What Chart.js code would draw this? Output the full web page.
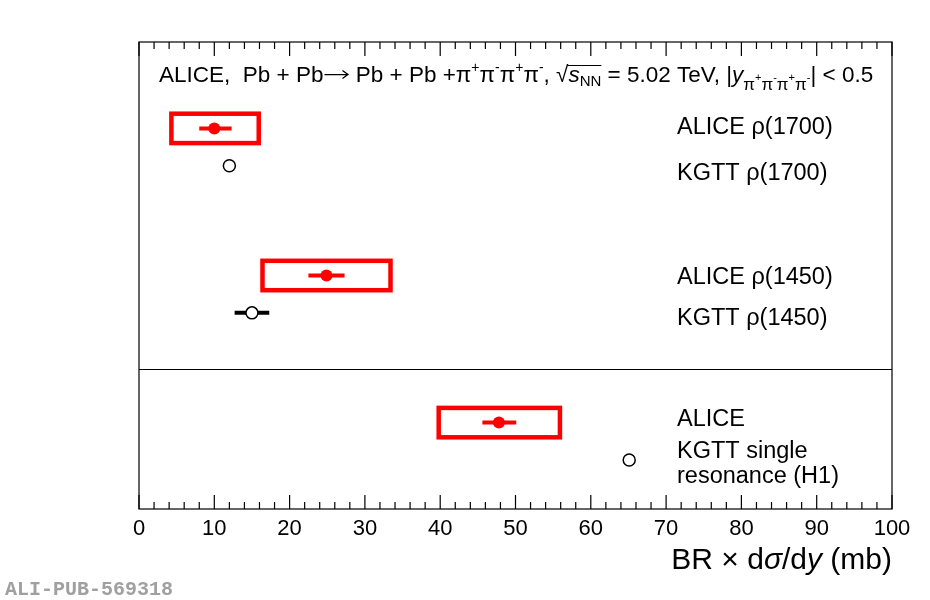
<!DOCTYPE html>
<html>
<head>
<meta charset="utf-8">
<script src="https://cdn.jsdelivr.net/npm/chart.js@4.4.0/dist/chart.umd.min.js"></script>
<style>
html, body { margin: 0; padding: 0; background: #fff; }
#wrap { width: 930px; height: 600px; }
</style>
</head>
<body>
<div id="wrap"><canvas id="alicePlot" width="930" height="600"></canvas></div>
<script>
// BR x dsigma/dy in mb
var groups = ['ρ(1700)', 'ρ(1450)', 'single resonance (H1)'];
var aliceValue = [10.0, 24.9, 47.8];
var aliceStatLo = [8.0, 22.5, 45.6];
var aliceStatHi = [12.3, 27.3, 50.1];
var aliceSysLo = [4.3, 16.4, 39.8];
var aliceSysHi = [15.9, 33.4, 55.9];
var kgttValue = [12.0, 15.0, 65.1];
var kgttErrLo = [null, 12.7, null];
var kgttErrHi = [null, 17.3, null];
// vertical slot of each row (arbitrary units 0..10)
var aliceRow = [8.15, 5.0, 1.85];
var kgttRow = [7.35, 4.2, 1.05];
var dividerRow = 3.0;
var tickLabels = [0, 10, 20, 30, 40, 50, 60, 70, 80, 90, 100];

var FONT = '"Liberation Sans", Arial, Helvetica, sans-serif';

function fontOf(p) {
    return (p.it ? 'italic ' : '') + p.s + 'px ' + FONT;
}

// draws a list of text pieces one after the other
function drawRich(ctx, parts, x, y, align) {
    var total = 0;
    parts.forEach(function (p) {
        ctx.font = fontOf(p);
        if (p.arrow) p.w = p.aw;
        else p.w = ctx.measureText(p.t).width;
        total += p.w;
    });
    if (align === 'right') x -= total;
    parts.forEach(function (p) {
        p.x = x;
        if (p.arrow) {
            // long right arrow like ROOT's #rightarrow
            var ya = y - p.s * 0.33;
            ctx.save();
            ctx.lineWidth = 1.3;
            ctx.beginPath();
            ctx.moveTo(x + 1, ya);
            ctx.lineTo(x + p.w - 2, ya);
            ctx.moveTo(x + p.w - 7, ya - 4);
            ctx.lineTo(x + p.w - 1.5, ya);
            ctx.lineTo(x + p.w - 7, ya + 4);
            ctx.stroke();
            ctx.restore();
        } else {
            ctx.font = fontOf(p);
            ctx.fillText(p.t, x, y + (p.dy || 0));
        }
        x += p.w;
    });
    return parts;
}

var decorPlugin = {
    id: 'decor',
    beforeDatasetsDraw: function (chart) {
        var ctx = chart.ctx, xs = chart.scales.x, ys = chart.scales.y;
        ctx.save();
        // systematic boxes
        ctx.strokeStyle = '#ff0000';
        ctx.lineWidth = 4.5;
        for (var i = 0; i < aliceValue.length; i++) {
            var x0 = xs.getPixelForValue(aliceSysLo[i]);
            var x1 = xs.getPixelForValue(aliceSysHi[i]);
            var yc = ys.getPixelForValue(aliceRow[i]);
            ctx.strokeRect(x0, yc - 14.7, x1 - x0, 29.4);
        }
        // stat errors
        ctx.lineWidth = 4;
        for (var j = 0; j < aliceValue.length; j++) {
            var yy = ys.getPixelForValue(aliceRow[j]);
            ctx.beginPath();
            ctx.moveTo(xs.getPixelForValue(aliceStatLo[j]), yy);
            ctx.lineTo(xs.getPixelForValue(aliceStatHi[j]), yy);
            ctx.stroke();
        }
        ctx.strokeStyle = '#000';
        for (var k = 0; k < kgttValue.length; k++) {
            if (kgttErrLo[k] == null) continue;
            var yk = ys.getPixelForValue(kgttRow[k]);
            ctx.beginPath();
            ctx.moveTo(xs.getPixelForValue(kgttErrLo[k]), yk);
            ctx.lineTo(xs.getPixelForValue(kgttErrHi[k]), yk);
            ctx.stroke();
        }
        ctx.restore();
    },
    afterDraw: function (chart) {
        var ctx = chart.ctx, a = chart.chartArea, xs = chart.scales.x, ys = chart.scales.y;
        ctx.save();
        ctx.strokeStyle = '#000';
        ctx.lineWidth = 1.2;
        ctx.strokeRect(a.left, a.top, a.right - a.left, a.bottom - a.top);

        // divider between the two-resonance and single-resonance fits
        var yd = Math.round(ys.getPixelForValue(dividerRow)) + 0.5;
        ctx.beginPath();
        ctx.moveTo(a.left, yd);
        ctx.lineTo(a.right, yd);
        ctx.stroke();

        // inward ticks, bottom and top
        xs.ticks.forEach(function (t) {
            var px = xs.getPixelForValue(t.value);
            var len = tickLabels.indexOf(t.value) >= 0 ? 14 : 7;
            ctx.beginPath();
            ctx.moveTo(px, a.bottom);
            ctx.lineTo(px, a.bottom - len);
            ctx.moveTo(px, a.top);
            ctx.lineTo(px, a.top + len);
            ctx.stroke();
        });

        ctx.fillStyle = '#000';
        ctx.textBaseline = 'alphabetic';
        ctx.textAlign = 'left';

        // header
        var B = 22.5, sup = -10, ss = 14;
        var head = [
            { t: 'ALICE,  Pb + Pb', s: B },
            { t: '', s: B, arrow: true, aw: 26 },
            { t: ' Pb + Pb +', s: B },
            { t: 'π', s: B }, { t: '+', s: ss, dy: sup },
            { t: 'π', s: B }, { t: '-', s: ss, dy: sup },
            { t: 'π', s: B }, { t: '+', s: ss, dy: sup },
            { t: 'π', s: B }, { t: '-', s: ss, dy: sup },
            { t: ', ', s: B },
            { t: '√', s: B },
            { t: 's', s: B, it: true },
            { t: 'NN', s: 15, dy: 4 },
            { t: ' = 5.02 TeV, |', s: B },
            { t: 'y', s: B, it: true },
            { t: 'π', s: 17, dy: 8 }, { t: '+', s: 11, dy: -1 },
            { t: 'π', s: 17, dy: 8 }, { t: '-', s: 11, dy: -1 },
            { t: 'π', s: 17, dy: 8 }, { t: '+', s: 11, dy: -1 },
            { t: 'π', s: 17, dy: 8 }, { t: '-', s: 11, dy: -1 },
            { t: '| < 0.5', s: B }
        ];
        drawRich(ctx, head, 159, 82);
        // overline of the square root
        var sq = head[12], nn = head[14];
        ctx.lineWidth = 1;
        ctx.beginPath();
        ctx.moveTo(sq.x + sq.w - 1, 65.5);
        ctx.lineTo(nn.x + nn.w, 65.5);
        ctx.stroke();

        // row labels
        ctx.font = '23.5px ' + FONT;
        ctx.fillText('ALICE ' + groups[0], 677, 134);
        ctx.fillText('KGTT ' + groups[0], 677, 180);
        ctx.fillText('ALICE ' + groups[1], 677, 284);
        ctx.fillText('KGTT ' + groups[1], 677, 325);
        ctx.fillText('ALICE', 677, 426);
        ctx.fillText('KGTT single', 677, 458);
        ctx.fillText('resonance (H1)', 677, 483);

        // axis title
        drawRich(ctx, [
            { t: 'BR', s: 30 },
            { t: ' × ', s: 30 },
            { t: 'd', s: 30 },
            { t: 'σ', s: 30, it: true },
            { t: '/d', s: 30 },
            { t: 'y', s: 30, it: true },
            { t: ' (mb)', s: 30 }
        ], a.right, 569, 'right');

        // publication id
        ctx.fillStyle = '#a0a0a0';
        ctx.font = 'bold 20px "Liberation Mono", "DejaVu Sans Mono", monospace';
        ctx.fillText('ALI-PUB-569318', 5, 595);
        ctx.restore();
    }
};

var ctx = document.getElementById('alicePlot').getContext('2d');

var plot = new Chart(ctx, {
    type: 'scatter',
    data: {
        datasets: [{
            label: 'ALICE',
            data: aliceValue.map(function (v, i) { return { x: v, y: aliceRow[i] }; }),
            pointRadius: 6,
            pointBackgroundColor: '#ff0000',
            pointBorderColor: '#ff0000',
            pointBorderWidth: 0
        }, {
            label: 'KGTT',
            data: kgttValue.map(function (v, i) { return { x: v, y: kgttRow[i] }; }),
            pointRadius: 6,
            pointBackgroundColor: '#ffffff',
            pointBorderColor: '#000000',
            pointBorderWidth: 1.5
        }]
    },
    options: {
        responsive: false,
        animation: false,
        devicePixelRatio: 1,
        layout: { padding: { left: 139, right: 38, top: 42, bottom: 0 } },
        plugins: {
            legend: { display: false },
            tooltip: { enabled: false }
        },
        scales: {
            x: {
                type: 'linear',
                min: 0,
                max: 100,
                afterFit: function (scale) { scale.height = 91; },
                grid: { display: false, drawTicks: false },
                border: { display: false },
                ticks: {
                    stepSize: 2,
                    autoSkip: false,
                    maxRotation: 0,
                    padding: 7,
                    color: '#000',
                    font: { family: FONT, size: 22 },
                    callback: function (value) {
                        return tickLabels.indexOf(value) >= 0 ? value : '';
                    }
                }
            },
            y: {
                type: 'linear',
                display: false,
                min: 0,
                max: 10
            }
        }
    },
    plugins: [decorPlugin]
});
</script>
</body>
</html>
